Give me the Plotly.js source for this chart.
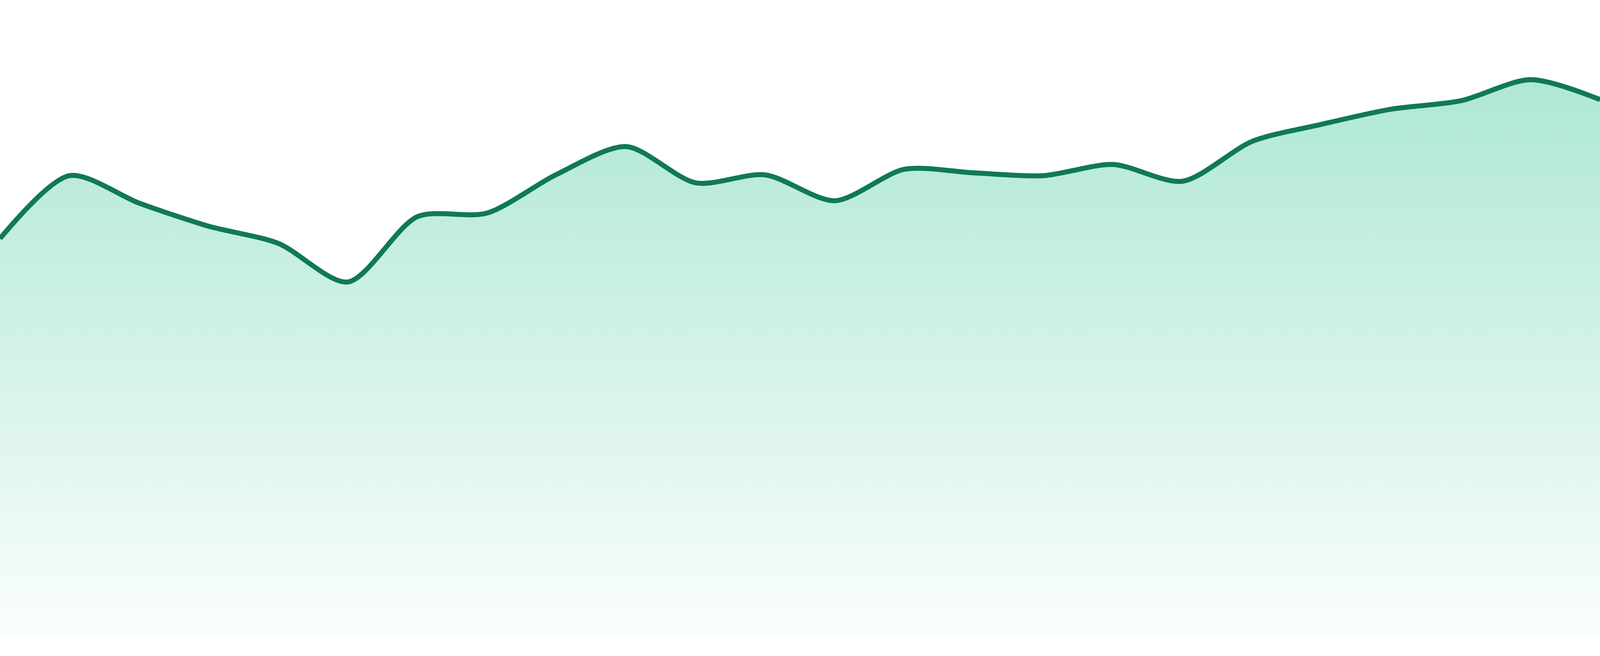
<!DOCTYPE html>
<html>
<head>
<meta charset="utf-8">
<script src="https://cdn.plot.ly/plotly-3.0.1.min.js"></script>
<style>
  html, body { margin: 0; padding: 0; background: #ffffff; overflow: hidden; }
  #chart { width: 100vw; height: 100vh; }
</style>
</head>
<body>
<div id="chart"></div>
<script>
// one point per period
var periods = [0, 1, 2, 3, 4, 5, 6, 7, 8, 9, 10, 11, 12, 13, 14, 15, 16, 17, 18, 19, 20, 21, 22, 23];
var values = [100.1, 115.9, 109.0, 103.2, 98.9, 89.2, 105.6, 106.5, 116.2, 123.2,
              114.1, 116.1, 109.6, 117.5, 116.6, 115.9, 118.7, 114.5, 124.5, 128.8,
              132.6, 134.7, 140.0, 135.0];

var lineColor = '#107a52';

// fit whatever viewport we get; sizes below are for a 4800x1680 frame
var W = window.innerWidth || 4800;
var H = window.innerHeight || 1680;
var s = W / 4800;

var trace = {
  x: periods,
  y: values,
  type: 'scatter',
  mode: 'lines',
  line: { color: lineColor, width: 15 * s, shape: 'spline', smoothing: 0.8 },
  fill: 'tozeroy',
  fillgradient: {
    type: 'vertical',
    start: 0,
    stop: 140,
    colorscale: [
      [0, 'rgba(16,185,129,0.02)'],
      [1, 'rgba(16,185,129,0.34)']
    ]
  },
  hoverinfo: 'skip'
};

var layout = {
  width: W,
  height: H,
  margin: { l: 0, r: 0, t: 0, b: Math.round(48 * H / 1680), pad: 0 },
  paper_bgcolor: '#ffffff',
  plot_bgcolor: '#ffffff',
  showlegend: false,
  xaxis: { range: [0, 23], visible: false, fixedrange: true },
  yaxis: { range: [0, 160], visible: false, fixedrange: true }
};

Plotly.newPlot('chart', [trace], layout, { displayModeBar: false, staticPlot: true });
</script>
</body>
</html>
